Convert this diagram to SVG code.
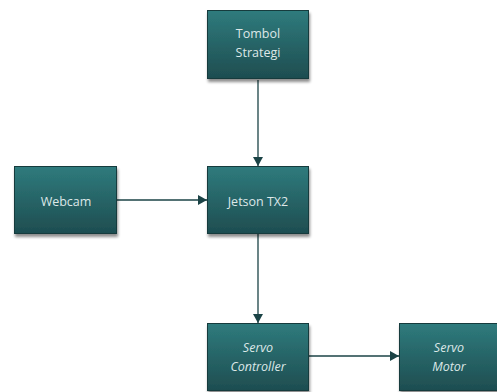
<svg xmlns="http://www.w3.org/2000/svg" width="497" height="392" viewBox="0 0 497 392">
<defs>
<linearGradient id="g" x1="0" y1="0" x2="0" y2="1">
<stop offset="0" stop-color="#2f7b7d"/>
<stop offset="1" stop-color="#1e4d50"/>
</linearGradient>
<filter id="sh" x="-10%" y="-10%" width="130%" height="130%">
<feGaussianBlur in="SourceAlpha" stdDeviation="1.5"/>
<feOffset dx="1" dy="3"/>
<feComponentTransfer><feFuncA type="linear" slope="0.45"/></feComponentTransfer>
<feMerge><feMergeNode/><feMergeNode in="SourceGraphic"/></feMerge>
</filter>
<marker id="ah" markerWidth="10" markerHeight="10" refX="9" refY="5" orient="auto" markerUnits="userSpaceOnUse">
<path d="M0,0 L9,5 L0,10 z" fill="#1b4346"/>
</marker>
</defs>
<style>
.box{fill:url(#g);stroke:#183a3c;stroke-width:1;filter:url(#sh)}
.t{font-family:"Open Sans","Liberation Sans",sans-serif;font-size:12.5px;fill:#dde8e8;text-anchor:middle}
.i{font-style:italic}
.c{stroke:#1b4346;stroke-width:1.3;fill:none;marker-end:url(#ah)}
</style>
<g id="connectors">
<line class="c" x1="258" y1="80" x2="258" y2="166"/>
<line class="c" x1="117" y1="200" x2="207" y2="200"/>
<line class="c" x1="258" y1="233" x2="258" y2="323"/>
<line class="c" x1="308" y1="356" x2="399" y2="356"/>
</g>
<g id="tombol">
<rect class="box" x="207.5" y="10.5" width="101" height="68"/>
<text class="t" x="258" y="38">Tombol</text>
<text class="t" x="258" y="57">Strategi</text>
</g>
<g id="webcam">
<rect class="box" x="14.5" y="166.5" width="102" height="67"/>
<text class="t" x="66" y="206">Webcam</text>
</g>
<g id="jetson">
<rect class="box" x="207.5" y="166.5" width="101" height="67"/>
<text class="t" x="258" y="206">Jetson TX2</text>
</g>
<g id="servo-controller">
<rect class="box" x="207.5" y="323.5" width="101" height="67"/>
<text class="t i" x="258" y="352">Servo</text>
<text class="t i" x="258" y="371">Controller</text>
</g>
<g id="servo-motor">
<rect class="box" x="399.5" y="323.5" width="101" height="67"/>
<text class="t i" x="449" y="352">Servo</text>
<text class="t i" x="449" y="371">Motor</text>
</g>
</svg>
